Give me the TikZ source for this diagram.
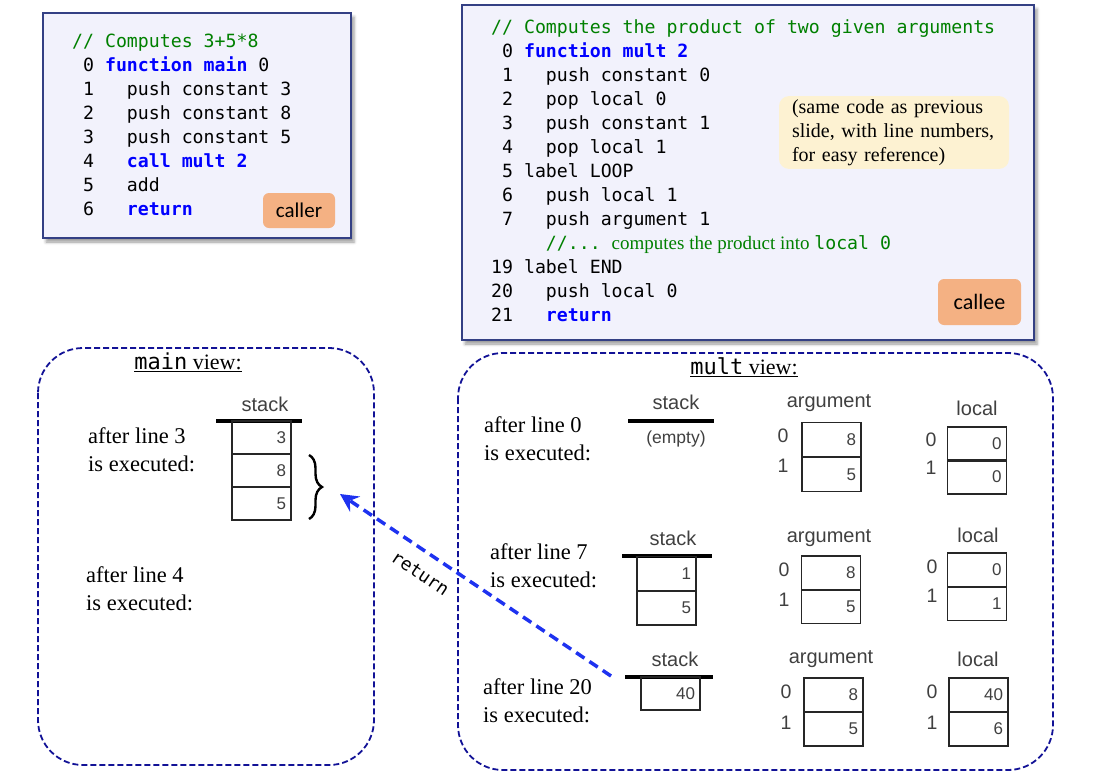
\documentclass[tikz,border=0pt]{standalone}
\usepackage{fontspec}
\setmainfont{Liberation Serif}
\setsansfont{Liberation Sans}
\setmonofont{DejaVu Sans Mono}
\newfontfamily\tagfont{Carlito}
\usetikzlibrary{arrows.meta,shadows.blur,decorations.pathreplacing}

\definecolor{code back}{RGB}{242,242,252}
\definecolor{code edge}{RGB}{52,64,132}
\definecolor{view edge}{RGB}{18,18,150}
\definecolor{keyword}{RGB}{0,0,255}
\definecolor{comment}{RGB}{0,128,0}
\definecolor{tag fill}{RGB}{244,177,131}
\definecolor{note fill}{RGB}{253,242,210}
\definecolor{return blue}{RGB}{30,50,240}
\colorlet{cell text}{black!75}

\newcommand\kw[1]{\textcolor{keyword}{\bfseries #1}}
\newcommand\cm[1]{\textcolor{comment}{#1}}

\tikzset{
  codebox/.style={fill=code back, draw=code edge, line width=1.2pt,
    blur shadow={shadow xshift=3pt, shadow yshift=-4pt, shadow blur radius=3pt}},
  code/.style={anchor=base west, inner sep=0pt, font=\fontsize{18.2}{18.2}\selectfont\ttfamily},
  tagbox/.style={fill=tag fill, rounded corners=6pt, font=\fontsize{21}{21}\selectfont\tagfont},
  notebox/.style={fill=note fill, rounded corners=10pt, text width=204pt, inner xsep=13pt,
    align=left, minimum height=71pt, font=\fontsize{20}{24}\selectfont},
  viewbox/.style={draw=view edge, line width=1.8pt, dash pattern=on 6pt off 3pt, rounded corners=45pt},
  viewtitle/.style={font=\fontsize{22}{22}\selectfont},
  afterline/.style={anchor=west, align=left, inner xsep=0pt, font=\fontsize{22.5}{28}\selectfont},
  seglabel/.style={text=cell text, font=\fontsize{20}{20}\selectfont\sffamily},
  index/.style={text=cell text, font=\fontsize{19.5}{19.5}\selectfont\sffamily},
  cell/.style={draw=black!85, line width=1.4pt, text=cell text, font=\fontsize{17}{17}\selectfont\sffamily,
    text width=49pt, align=right, inner xsep=5pt, inner ysep=0pt, minimum height=34pt},
  topbar/.style={line width=3.5pt},
  bracket/.style={decorate, decoration={brace, amplitude=13pt}, line width=2.4pt},
  retarrow/.style={draw=return blue, line width=3.5pt, dash pattern=on 10pt off 6pt,
    -{Stealth[length=18pt, width=18pt, inset=6pt]}},
  retlabel/.style={inner sep=0pt, font=\fontsize{18}{18}\selectfont\ttfamily}
}

\begin{document}
\begin{tikzpicture}[x=1pt, y=-1pt]
  \useasboundingbox (0,0) rectangle (1108,777);

  % caller code
  \draw[codebox] (43,13) rectangle (351,238);
  \foreach \ln [count=\i from 0] in {{\cm{// Computes 3+5*8}}, {~0 \kw{function main} 0},
      {~1~~~push constant 3}, {~2~~~push constant 8}, {~3~~~push constant 5},
      {~4~~~\kw{call mult 2}}, {~5~~~add}, {~6~~~\kw{return}}}
    \node[code] (callerl\i) at (72,47.5+24*\i) {\ln};
  \node[tagbox, minimum width=72pt, minimum height=35pt] (caller) at (299,210.5) {caller};

  % callee code
  \draw[codebox] (462,5) rectangle (1034,340);
  \foreach \ln [count=\i from 0] in {{\cm{// Computes the product of two given arguments}},
      {~0 \kw{function mult 2}}, {~1~~~push constant 0}, {~2~~~pop local 0},
      {~3~~~push constant 1}, {~4~~~pop local 1}, {~5 label LOOP}, {~6~~~push local 1},
      {~7~~~push argument 1},
      {~~~~~\cm{//...~{\rmfamily\fontsize{19}{19}\selectfont computes the product into }local 0}},
      {19 label END}, {20~~~push local 0}, {21~~~\kw{return}}}
    \node[code] (calleel\i) at (491,33.5+24*\i) {\ln};
  \node[notebox] (note) at (894,132.5) {(same code as previous\\slide, with line numbers,\\for easy reference)};
  \node[tagbox, minimum width=83pt, minimum height=46pt, font=\fontsize{22}{22}\selectfont\tagfont] (callee) at (979.5,302) {callee};

  % main view
  \draw[viewbox] (38,348) rectangle (374,765);
  \node[viewtitle] (maintitle) at (188,362) {\underline{\texttt{main} view:}};
  \node[afterline] (mainrow3) at (88,450) {after line 3\\is executed:};
  \node[afterline] (mainrow4) at (86,589) {after line 4\\is executed:};
  \node[seglabel] (mainstack) at (265,404) {stack};
  \draw[topbar] (216,421) -- (302,421);
  \foreach \v [count=\k from 0] in {3,8,5}
    \node[cell, minimum height=33pt] (mainstack\k) at (261.5,437.5+33*\k) {\v};
  \draw[bracket] (309,455) -- (309,519);
  \coordinate (braceTip) at (340,494);

  % mult view
  \draw[viewbox] (458,353) rectangle (1053,770);
  \node[viewtitle] (multtitle) at (744,367) {\underline{\texttt{mult} view:}};

  \node[afterline] (multrow0) at (484,439) {after line 0\\is executed:};
  \node[seglabel] (stackA) at (676,402) {stack};
  \draw[topbar] (628,421) -- (714,421);
  \node[seglabel, font=\fontsize{17.5}{17.5}\selectfont\sffamily] (emptyA) at (676,439) {(empty)};
  \node[seglabel] (argA) at (829,403) {argument};
  \node[seglabel] (localA) at (977,408) {local};
  \foreach \v [count=\k from 0] in {8,5} {
    \node[cell] (argA\k) at (831.5,439.5+35*\k) {\v};
    \node[index] (argAi\k) at (783,436+30*\k) {\k};
  }
  \foreach \v [count=\k from 0] in {0,0} {
    \node[cell] (localA\k) at (977,444+33*\k) {\v};
    \node[index] (localAi\k) at (931,440+28*\k) {\k};
  }

  \node[afterline] (multrow7) at (490,566) {after line 7\\is executed:};
  \node[seglabel] (stackB) at (673,538) {stack};
  \draw[topbar] (622,556) -- (712,556);
  \node[seglabel] (argB) at (829,538) {argument};
  \node[seglabel] (localB) at (978,535) {local};
  \foreach \v [count=\k from 0] in {1,5}
    \node[cell] (stackB\k) at (666.5,573.5+34.5*\k) {\v};
  \foreach \v [count=\k from 0] in {8,5} {
    \node[cell] (argB\k) at (831,573+33.5*\k) {\v};
    \node[index] (argBi\k) at (784,570+30*\k) {\k};
  }
  \foreach \v [count=\k from 0] in {0,1} {
    \node[cell] (localB\k) at (977,570+33.5*\k) {\v};
    \node[index] (localBi\k) at (932,567+29*\k) {\k};
  }

  \node[afterline] (multrow20) at (483,701) {after line 20\\is executed:};
  \node[seglabel] (stackC) at (675,659) {stack};
  \draw[topbar] (625,677) -- (713,677);
  \node[seglabel] (argC) at (831,659) {argument};
  \node[seglabel] (localC) at (978,659) {local};
  \node[cell, minimum height=33pt] (stackC0) at (670.5,693.5) {40};
  \foreach \v [count=\k from 0] in {8,5} {
    \node[cell] (argC\k) at (833.5,695+34*\k) {\v};
    \node[index] (argCi\k) at (786,692+31*\k) {\k};
  }
  \foreach \v [count=\k from 0] in {40,6} {
    \node[cell] (localC\k) at (978.5,695+34*\k) {\v};
    \node[index] (localCi\k) at (932,692+31*\k) {\k};
  }

  % return
  \coordinate (retStart) at (611,676);
  \draw[retarrow] (retStart) -- node[retlabel, pos=0.66, sloped, below=13pt] (retword) {return} (braceTip);
\end{tikzpicture}
\end{document}
